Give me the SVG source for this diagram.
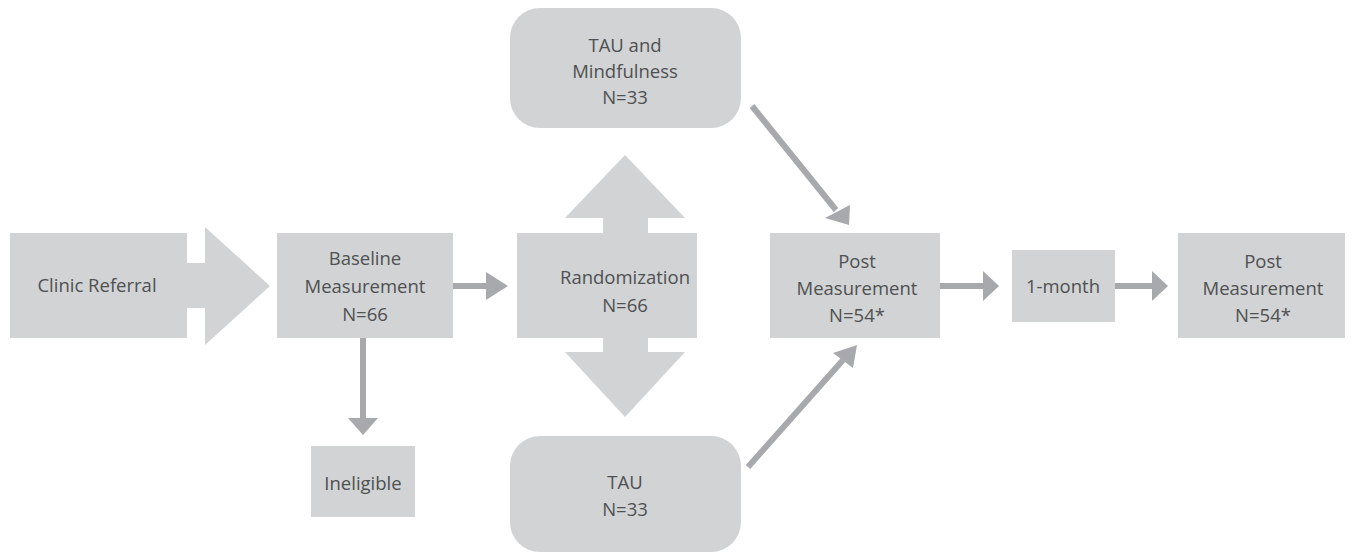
<svg xmlns="http://www.w3.org/2000/svg" width="1353" height="553" viewBox="0 0 1353 553">
<defs>
<style>
.box{fill:#d1d3d4}
.t{font-family:"Open Sans","Liberation Sans",sans-serif;font-size:18.5px;fill:#4f5052;text-anchor:middle}
.ln{stroke:#a7a9ac;stroke-width:6;fill:none}
.hd{fill:#a7a9ac}
</style>
</defs>
<rect width="1353" height="553" fill="#ffffff"/>
<g id="clinic">
<path class="box" d="M10,233 H187 V263 H205 V227 L270,286 L205,345 V308 H187 V338 H10 Z"/>
<text class="t" x="97" y="292">Clinic Referral</text>
</g>
<g id="baseline">
<rect class="box" x="277" y="233" width="176" height="105"/>
<text class="t" x="365" y="265">Baseline</text>
<text class="t" x="365" y="293">Measurement</text>
<text class="t" x="365" y="321">N=66</text>
</g>
<g id="randomization">
<path class="box" d="M517,233 H603 V218 H565 L625,155 L685,218 H648 V233 H697 V338 H648 V352 H685 L625,417 L565,352 H603 V338 H517 Z"/>
<text class="t" x="625" y="284">Randomization</text>
<text class="t" x="625" y="312">N=66</text>
</g>
<g id="tau-mindfulness">
<rect class="box" x="510" y="8" width="231" height="120" rx="30"/>
<text class="t" x="625" y="52">TAU and</text>
<text class="t" x="625" y="78">Mindfulness</text>
<text class="t" x="625" y="104">N=33</text>
</g>
<g id="tau">
<rect class="box" x="510" y="436" width="231" height="116" rx="30"/>
<text class="t" x="625" y="489">TAU</text>
<text class="t" x="625" y="516">N=33</text>
</g>
<g id="post1">
<rect class="box" x="770" y="233" width="170" height="105"/>
<text class="t" x="857" y="268">Post</text>
<text class="t" x="857" y="295">Measurement</text>
<text class="t" x="857" y="322">N=54*</text>
</g>
<g id="onemonth">
<rect class="box" x="1012" y="250" width="103" height="72"/>
<text class="t" x="1063" y="293">1-month</text>
</g>
<g id="post2">
<rect class="box" x="1178" y="233" width="167" height="105"/>
<text class="t" x="1263" y="268">Post</text>
<text class="t" x="1263" y="295">Measurement</text>
<text class="t" x="1263" y="322">N=54*</text>
</g>
<g id="ineligible">
<rect class="box" x="311" y="446" width="104" height="71"/>
<text class="t" x="363" y="490">Ineligible</text>
</g>
<g id="connectors">
<line class="ln" x1="453" y1="286" x2="488" y2="286"/>
<path class="hd" d="M486,272 L508,286 L486,300 Z"/>
<line class="ln" x1="363" y1="338" x2="363" y2="420"/>
<path class="hd" d="M348,418 H378 L363,435 Z"/>
<line class="ln" x1="940" y1="286" x2="985" y2="286"/>
<path class="hd" d="M983,271 L999,286 L983,301 Z"/>
<line class="ln" x1="1115" y1="286" x2="1154" y2="286"/>
<path class="hd" d="M1152,271 L1168,286 L1152,301 Z"/>
<line class="ln" x1="752" y1="106" x2="836" y2="210"/>
<path class="hd" d="M825,218 L850,205 L849,225 Z"/>
<line class="ln" x1="748" y1="467" x2="843" y2="360"/>
<path class="hd" d="M833,353 L857,345 L853,368 Z"/>
</g>
</svg>
